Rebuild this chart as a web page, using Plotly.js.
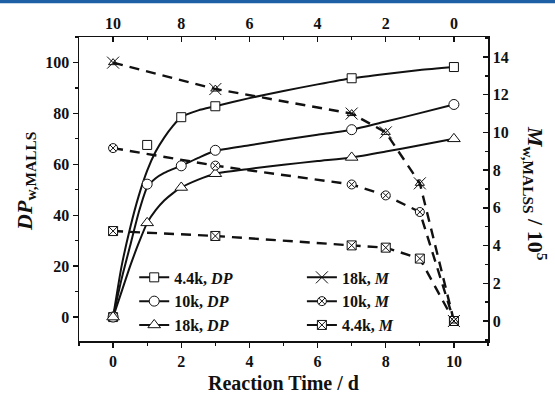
<!DOCTYPE html>
<html>
<head>
<meta charset="utf-8">
<script src="https://cdn.plot.ly/plotly-3.0.1.min.js"></script>
<style>html,body{margin:0;padding:0;background:#fff;}#chart{width:555px;height:401px;}</style>
</head>
<body>
<div id="chart"></div>
<script>
// Measured points (reaction time in days)
const days = [0, 1, 2, 3, 7, 10];
const dp44 = [0, 67.6, 78.5, 82.8, 93.8, 98.2];
const dp10 = [0, 52.2, 59.4, 65.5, 73.6, 83.5];
const dp18 = [0, 37, 50.9, 56.3, 62.7, 70];

// Fitted curves
const fitDays = [0, 0.25, 0.5, 0.75, 1, 1.25, 1.5, 1.75, 2, 2.5, 3, 4, 5, 6, 7, 8, 9, 10];
const fit44 = [0, 20, 35, 47.5, 57.5, 65, 70.5, 75, 78.5, 81.2, 82.8, 86, 88.8, 91.4, 93.8, 95.5, 97, 98.2];
const fit10 = [0, 15, 28, 41, 51, 54.5, 56.6, 58.1, 59.4, 62.5, 65.3, 67.5, 69.6, 71.6, 73.6, 76.8, 80.1, 83.5];
const fit18 = [0, 10, 20, 29, 37, 42, 45.8, 48.6, 50.9, 54, 56.3, 58.2, 59.8, 61.3, 62.7, 65, 67.5, 70];

// Molecular weight (right axis, x 10^5)
const mDays = [0, 3, 7, 8, 9, 10];
const m18 = [13.7, 12.3, 11.0, 10.0, 7.3, 0];
const m10 = [9.17, 8.24, 7.24, 6.66, 5.78, 0];
const m44 = [4.77, 4.51, 4.01, 3.89, 3.31, 0];

const labels = {
  dp44: '4.4k, <i>DP</i>', dp10: '10k, <i>DP</i>', dp18: '18k, <i>DP</i>',
  m18: '18k, <i>M</i>', m10: '10k, <i>M</i>', m44: '4.4k, <i>M</i>'
};

const K = '#111';
const FONT = 'Liberation Serif, Times New Roman, serif';
const dashM = '10px,7px';

function fillFor(sym) { return sym.indexOf('-open') >= 0 ? K : '#fff'; }
function curve(x, y) {
  return {x: x, y: y, mode: 'lines', line: {color: K, width: 2, shape: 'spline', smoothing: 0.6},
    showlegend: false, hoverinfo: 'skip'};
}
function pts(x, y, sym, size, yaxis) {
  return {x: x, y: y, yaxis: yaxis || 'y', mode: 'markers', showlegend: false,
    marker: {symbol: sym, size: size, color: fillFor(sym), line: {color: K, width: 1}}};
}
function mline(x, y) {
  return {x: x, y: y, yaxis: 'y2', mode: 'lines', showlegend: false,
    line: {color: K, width: 2.4, dash: dashM}};
}
function leg(name, sym, size, legend) {
  return {x: [null], y: [null], mode: 'lines+markers', name: name, legend: legend,
    line: {color: K, width: 2},
    marker: {symbol: sym, size: size, color: fillFor(sym), line: {color: K, width: 1}}};
}

const data = [
  curve(fitDays, fit44), curve(fitDays, fit10), curve(fitDays, fit18),
  mline(mDays, m18), mline(mDays, m10), mline(mDays, m44),
  pts(days, dp44, 'square', 9), pts(days, dp10, 'circle', 10), pts(days, dp18, 'triangle-up', 11),
  pts(mDays, m10, 'circle-x', 9, 'y2'), pts(mDays, m44, 'square-x', 9, 'y2'),
  pts(mDays, m18, 'triangle-up-open', 8, 'y2'), pts(mDays, m18, 'x-thin-open', 12, 'y2'),
  {x: [null], y: [null], xaxis: 'x2', yaxis: 'y2', mode: 'markers', showlegend: false},
  leg(labels.dp44, 'square', 9, 'legend'),
  leg(labels.dp10, 'circle', 10, 'legend'),
  leg(labels.dp18, 'triangle-up', 11, 'legend'),
  leg(labels.m18, 'x-thin-open', 12, 'legend2'),
  leg(labels.m10, 'circle-x', 9, 'legend2'),
  leg(labels.m44, 'square-x', 9, 'legend2')
];

const tickfont = {family: FONT, size: 16, color: K, weight: 'bold'};
const axBase = {showgrid: false, zeroline: false, showline: true, linecolor: K, linewidth: 1.5,
  tickcolor: K, tickwidth: 1.3, ticklen: 5, tickfont: tickfont};

const layout = {
  width: 555, height: 401,
  margin: {l: 79, r: 67, t: 37, b: 60},
  paper_bgcolor: '#fff', plot_bgcolor: '#fff',
  showlegend: true,
  xaxis: Object.assign({}, axBase, {range: [-1, 11], tick0: 0, dtick: 2, ticks: 'outside',
    minor: {dtick: 1, ticklen: 3, ticks: 'outside', tickcolor: K, tickwidth: 1.3}}),
  xaxis2: Object.assign({}, axBase, {range: [11, -1], tick0: 0, dtick: 2, ticks: 'inside',
    overlaying: 'x', side: 'top', anchor: 'y',
    minor: {dtick: 1, ticklen: 3, ticks: 'inside', tickcolor: K, tickwidth: 1.3}}),
  yaxis: Object.assign({}, axBase, {range: [-9.4, 110], tick0: 0, dtick: 20, ticks: 'outside',
    minor: {dtick: 10, ticklen: 3, ticks: 'outside', tickcolor: K, tickwidth: 1.3}}),
  yaxis2: Object.assign({}, axBase, {range: [-1.06, 15.06], tick0: 0, dtick: 2, ticks: 'inside',
    overlaying: 'y', side: 'right', anchor: 'x',
    minor: {dtick: 1, ticklen: 3, ticks: 'inside', tickcolor: K, tickwidth: 1.3}}),
  legend: {x: 0.135, y: 0.265, xanchor: 'left', yanchor: 'top', bgcolor: 'rgba(0,0,0,0)',
    font: {family: FONT, size: 16, color: K, weight: 'bold'}, tracegroupgap: 0, itemwidth: 30},
  legend2: {x: 0.545, y: 0.265, xanchor: 'left', yanchor: 'top', bgcolor: 'rgba(0,0,0,0)',
    font: {family: FONT, size: 16, color: K, weight: 'bold'}, tracegroupgap: 0, itemwidth: 30},
  shapes: [{type: 'rect', xref: 'paper', yref: 'paper', x0: -0.3, x1: 1.3, y0: 1.111, y1: 1.125,
    fillcolor: '#1f5fa6', line: {width: 0}}],
  annotations: [
    {text: '<i>DP</i><sub>w,MALLS</sub>', textangle: -90, xref: 'paper', yref: 'paper',
      x: -0.13, y: 0.526, xanchor: 'center', yanchor: 'middle', showarrow: false,
      font: {family: FONT, size: 22, color: K, weight: 'bold'}},
    {text: '<i>M</i><sub>w,MALSS</sub> / 10<sup>5</sup>', textangle: 90, xref: 'paper', yref: 'paper',
      x: 1.115, y: 0.487, xanchor: 'center', yanchor: 'middle', showarrow: false,
      font: {family: FONT, size: 22, color: K, weight: 'bold'}},
    {text: 'Reaction Time / d', xref: 'paper', yref: 'paper', x: 0.5, y: -0.138,
      xanchor: 'center', yanchor: 'middle', showarrow: false,
      font: {family: FONT, size: 20, color: K, weight: 'bold'}}
  ]
};

Plotly.newPlot('chart', data, layout, {displayModeBar: false, staticPlot: true});
</script>
</body>
</html>
